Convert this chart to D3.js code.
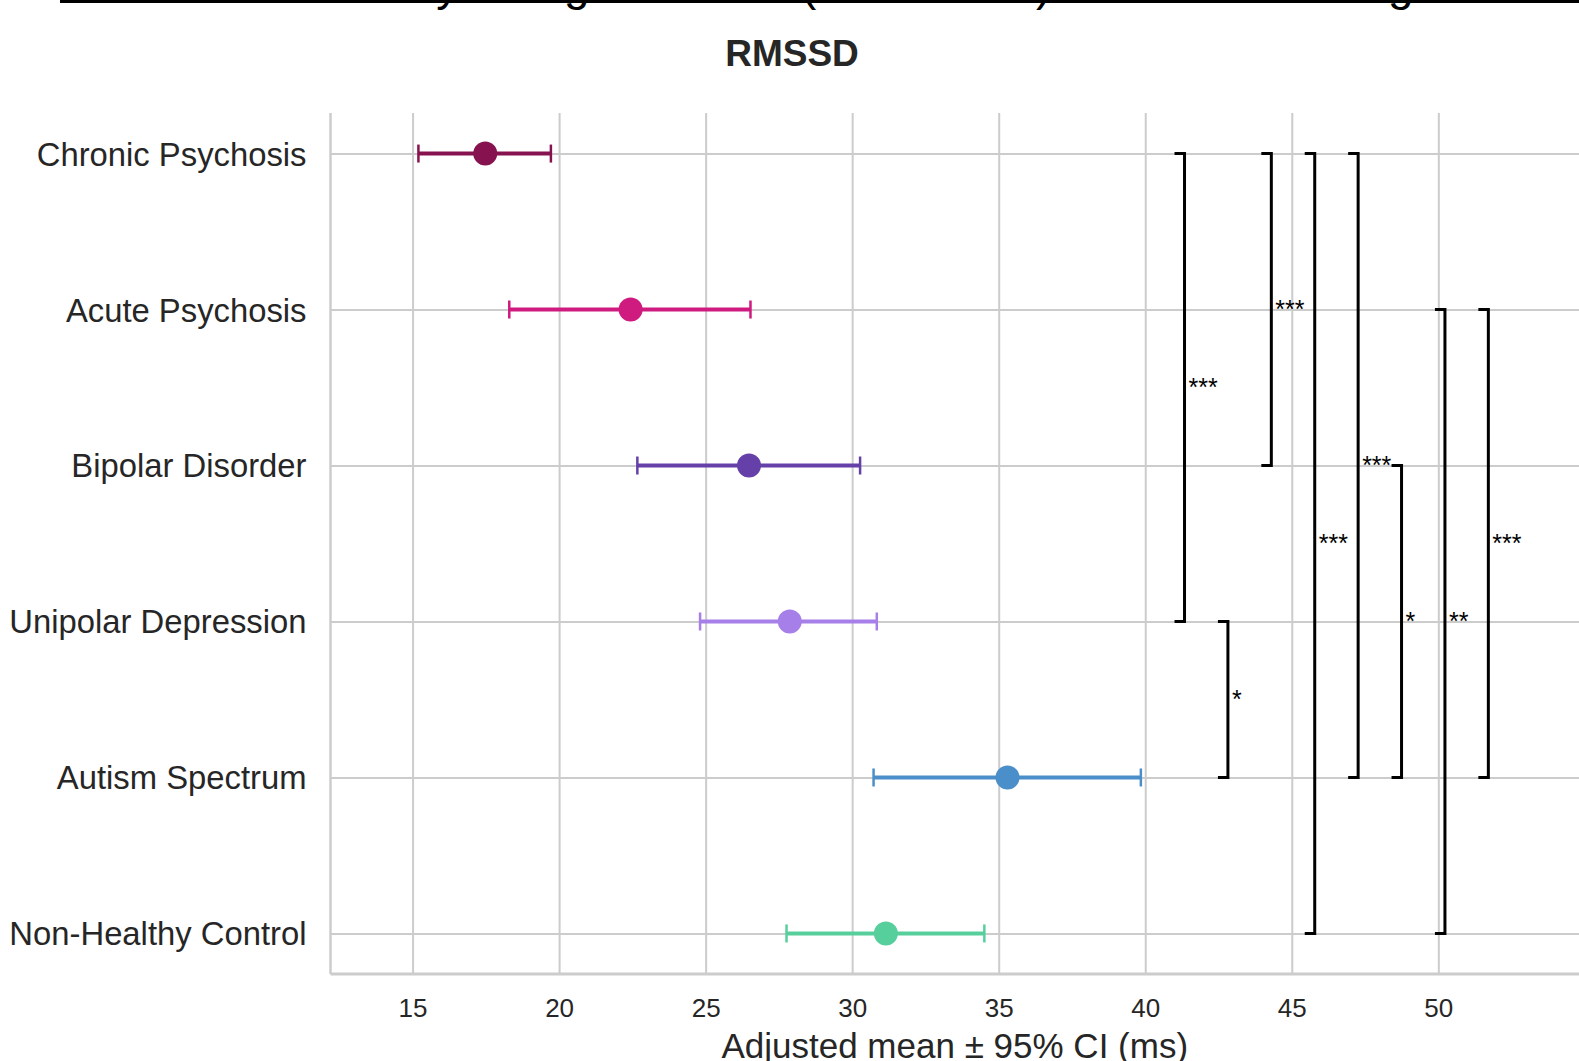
<!DOCTYPE html>
<html>
<head>
<meta charset="utf-8">
<script src="https://cdn.jsdelivr.net/npm/d3@7"></script>
<style>
body { margin: 0; background: #fff; }
text { font-family: "Liberation Sans", Arial, sans-serif; }
</style>
</head>
<body>
<div></div>
<script>
var categories = ["Chronic Psychosis", "Acute Psychosis", "Bipolar Disorder",
                  "Unipolar Depression", "Autism Spectrum", "Non-Healthy Control"];
var means  = [17.48, 22.44, 26.48, 27.87, 35.30, 31.15];
var ciLow  = [15.20, 18.30, 22.67, 24.81, 30.73, 27.76];
var ciHigh = [19.72, 26.53, 30.27, 30.84, 39.85, 34.51];
var colors = ["#86124f", "#cf1a7f", "#6440a8", "#a77fe8", "#4a8fc9", "#57cf9c"];
var xTicks = [15, 20, 25, 30, 35, 40, 45, 50];

// pairwise comparisons: group a vs group b, bracket level, stars
var pairA = [0, 3, 0, 0, 0, 2, 1, 1];
var pairB = [3, 4, 2, 5, 4, 4, 5, 4];
var sigLabels = ["***", "*", "***", "***", "***", "*", "**", "***"];

function init() {
var w = 1579;
var h = 1061;
var left = 330.5, right = 1579, top = 113, bottom = 974;
var ink = "#262626";
var grid = "#cccccc";

var svg = d3.select("div")
            .append("svg")
            .attr("width", w)
            .attr("height", h);

// cut-off figure title above the panel
svg.append("text")
    .attr("x", 28)
    .attr("y", 0)
    .attr("font-size", 46)
    .attr("fill", "#000")
    .text("Heart Rate Variability Using ANCOVA (Covariates) with Effect Sizing");
svg.append("line")
    .attr("x1", 60).attr("x2", w)
    .attr("y1", 1.5).attr("y2", 1.5)
    .attr("stroke", "#000")
    .attr("stroke-width", 3);

var x = d3.scaleLinear().domain([12.2, 54.8]).range([left, right]);
var y = d3.scalePoint().domain(d3.range(categories.length)).range([top, bottom]).padding(0.26);

// vertical grid
svg.append("g")
    .attr("transform", "translate(0," + bottom + ")")
    .call(d3.axisBottom(x).tickValues(xTicks).tickSize(-(bottom - top)).tickFormat(""))
    .call(function(g) {
        g.select(".domain").remove();
        g.selectAll("line").attr("stroke", grid).attr("stroke-width", 2);
    });

// horizontal grid
svg.append("g")
    .attr("transform", "translate(" + left + ",0)")
    .call(d3.axisLeft(y).tickSize(-(right - left)).tickFormat(""))
    .call(function(g) {
        g.select(".domain").remove();
        g.selectAll("line").attr("stroke", grid).attr("stroke-width", 2);
    });

// x axis
svg.append("g")
    .attr("transform", "translate(0," + bottom + ")")
    .call(d3.axisBottom(x).tickValues(xTicks).tickSize(0))
    .call(function(g) {
        g.select(".domain").remove();
        g.selectAll("text")
            .attr("y", 43)
            .attr("dy", null)
            .attr("font-size", 26)
            .attr("font-family", "Liberation Sans, Arial, sans-serif")
            .attr("fill", ink);
    });

// y axis
svg.append("g")
    .attr("transform", "translate(" + left + ",0)")
    .call(d3.axisLeft(y).tickSize(0).tickFormat(function(i) { return categories[i]; }))
    .call(function(g) {
        g.select(".domain").remove();
        g.selectAll("text")
            .attr("x", -24)
            .attr("dy", "0.35em")
            .attr("font-size", 32.8)
            .attr("font-family", "Liberation Sans, Arial, sans-serif")
            .attr("fill", ink);
    });

// spines
svg.append("line")
    .attr("x1", left).attr("x2", left)
    .attr("y1", top).attr("y2", bottom)
    .attr("stroke", grid).attr("stroke-width", 2.5);
svg.append("line")
    .attr("x1", left).attr("x2", right)
    .attr("y1", bottom).attr("y2", bottom)
    .attr("stroke", grid).attr("stroke-width", 3);

var idx = d3.range(categories.length);

// error bars
svg.selectAll("line.ci")
    .data(idx)
    .enter()
    .append("line")
    .attr("class", "ci")
    .attr("x1", function(i) { return x(ciLow[i]); })
    .attr("x2", function(i) { return x(ciHigh[i]); })
    .attr("y1", function(i) { return y(i); })
    .attr("y2", function(i) { return y(i); })
    .attr("stroke", function(i) { return colors[i]; })
    .attr("stroke-width", 4);

["lo", "hi"].forEach(function(side) {
    svg.selectAll("line.cap-" + side)
        .data(idx)
        .enter()
        .append("line")
        .attr("class", "cap-" + side)
        .attr("x1", function(i) { return x(side == "lo" ? ciLow[i] : ciHigh[i]); })
        .attr("x2", function(i) { return x(side == "lo" ? ciLow[i] : ciHigh[i]); })
        .attr("y1", function(i) { return y(i) - 9; })
        .attr("y2", function(i) { return y(i) + 9; })
        .attr("stroke", function(i) { return colors[i]; })
        .attr("stroke-width", 2.5);
});

svg.selectAll("circle")
    .data(idx)
    .enter()
    .append("circle")
    .attr("cx", function(i) { return x(means[i]); })
    .attr("cy", function(i) { return y(i); })
    .attr("r", 12)
    .attr("fill", function(i) { return colors[i]; });

// significance brackets
var bx = function(k) { return x(41.34 + k * 1.481); };
var stub = 10;

svg.selectAll("path.bracket")
    .data(d3.range(pairA.length))
    .enter()
    .append("path")
    .attr("class", "bracket")
    .attr("d", function(k) {
        var xx = bx(k), y1 = y(pairA[k]), y2 = y(pairB[k]);
        return "M" + (xx - stub) + "," + y1 + "H" + xx + "V" + y2 + "H" + (xx - stub);
    })
    .attr("fill", "none")
    .attr("stroke", "#000")
    .attr("stroke-width", 3);

svg.selectAll("text.sig")
    .data(d3.range(pairA.length))
    .enter()
    .append("text")
    .attr("class", "sig")
    .attr("x", function(k) { return bx(k) + 4; })
    .attr("y", function(k) { return (y(pairA[k]) + y(pairB[k])) / 2; })
    .attr("dy", "0.35em")
    .attr("font-size", 25)
    .attr("fill", "#000")
    .text(function(k) { return sigLabels[k]; });

// titles
svg.append("text")
    .attr("x", 792)
    .attr("y", 66)
    .attr("text-anchor", "middle")
    .attr("font-size", 37)
    .attr("font-weight", "bold")
    .attr("fill", ink)
    .text("RMSSD");

svg.append("text")
    .attr("x", (left + right) / 2)
    .attr("y", 1058)
    .attr("text-anchor", "middle")
    .attr("font-size", 35)
    .attr("fill", ink)
    .text("Adjusted mean \u00b1 95% CI (ms)");
}

window.onload = init;
</script>
</body>
</html>
